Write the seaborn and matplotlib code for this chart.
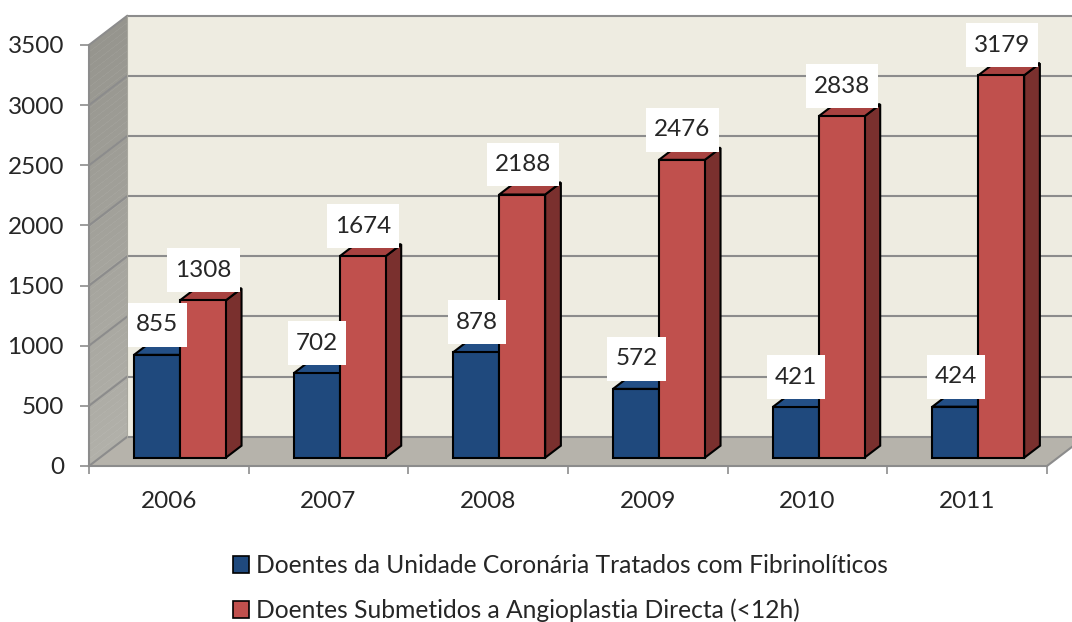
import numpy as np
import pandas as pd
import matplotlib
matplotlib.use("Agg")
import matplotlib.pyplot as plt
import matplotlib.colors as mcolors
from matplotlib.patches import Polygon, Patch
from matplotlib.path import Path
import seaborn as sns

# ---------------- data ----------------
years = ["2006", "2007", "2008", "2009", "2010", "2011"]
fibrinoliticos = [855, 702, 878, 572, 421, 424]
angioplastia = [1308, 1674, 2188, 2476, 2838, 3179]
series_names = [
    "Doentes da Unidade Coronária Tratados com Fibrinolíticos",
    "Doentes Submetidos a Angioplastia Directa (<12h)",
]
y_ticks = [0, 500, 1000, 1500, 2000, 2500, 3000, 3500]

# ---------------- style ----------------
sns.set_style("white")
plt.rcParams["font.family"] = ["Lato", "DejaVu Sans"]

BLUE, BLUE_TOP, BLUE_SIDE = "#1F497D", "#234F86", "#162F52"
RED, RED_TOP, RED_SIDE = "#C0504D", "#A84240", "#7A302E"
BACK_WALL = "#EEECE1"
FLOOR = "#B6B3AB"
WALL_TOP, WALL_BOT = "#96958E", "#B1B0A9"
GRID = "#8C8C8C"
FS = 17.5

W, H = 1072, 622
fig = plt.figure(figsize=(W / 100, H / 100), dpi=100)
x_left, x_right, y_zero, y_top = 89, 1047, 466, 45
ax = fig.add_axes([x_left / W, 1 - y_zero / H, (x_right - x_left) / W, (y_zero - y_top) / H])
ax.set_facecolor("none")

ymax = y_ticks[-1]
px_x = (x_right - x_left) / len(years)          # pixels per category
units_per_px = ymax / (y_zero - y_top)          # data units per pixel

def off(dx_px, dy_px):
    return dx_px / px_x, dy_px * units_per_px

BDX, BDY = off(38.3, 29.3)     # back wall offset
BARDX, BARDY = off(11.1, 8.3)  # bar front plane offset
DDX, DDY = off(15.7, 12.0)     # bar depth

n = len(years)
xl, xr = -0.5, n - 0.5


def label_box(x0, y0, width, height, mutation_size):
    px_ = 0.33 * mutation_size
    py_ = 0.47 * mutation_size
    return Path([(x0 - px_, y0 - py_), (x0 + width + px_, y0 - py_),
                 (x0 + width + px_, y0 + height + py_), (x0 - px_, y0 + height + py_),
                 (x0 - px_, y0 - py_)], closed=True)


# ---------------- walls ----------------
ax.add_patch(plt.Rectangle((xl + BDX, BDY), n + 1, ymax, fc=BACK_WALL, ec="none",
                           zorder=0.2, clip_on=False))
ax.add_patch(Polygon([(xl, 0), (xr, 0), (xr + BDX, BDY), (xl + BDX, BDY)], closed=True,
                     fc=FLOOR, ec="none", zorder=0.4, clip_on=False))
cmap = mcolors.LinearSegmentedColormap.from_list("wall", [WALL_BOT, WALL_TOP])
nstr = 60
for i in range(nstr):
    a, b = ymax * i / nstr, ymax * (i + 1) / nstr
    ax.add_patch(Polygon([(xl, a), (xl, b), (xl + BDX, b + BDY), (xl + BDX, a + BDY)],
                         closed=True, fc=cmap(i / (nstr - 1)), ec=cmap(i / (nstr - 1)),
                         lw=0.3, zorder=0.4, clip_on=False))

for v in y_ticks:
    ax.plot([xl + BDX, xr + 1], [v + BDY, v + BDY], color=GRID, lw=1.5, zorder=0.5,
            clip_on=False, solid_capstyle="butt")
    ax.plot([xl, xl + BDX], [v, v + BDY], color=GRID, lw=1.5, zorder=0.5, clip_on=False)
ax.plot([xr, xr + BDX], [0, BDY], color=GRID, lw=1.5, zorder=0.5, clip_on=False)
ax.plot([xl + BDX, xl + BDX], [BDY, ymax + BDY], color="#A9A89F", lw=0.8, zorder=0.5,
        clip_on=False)

# ---------------- bars ----------------
df = pd.DataFrame({
    "year": years * 2,
    "series": [series_names[0]] * n + [series_names[1]] * n,
    "value": fibrinoliticos + angioplastia,
})
sns.barplot(data=df, x="year", y="value", hue="series", palette=[BLUE, RED],
            width=0.575, saturation=1, errorbar=None, edgecolor="black", linewidth=1.5,
            ax=ax, legend=False, zorder=3)

blue_rgba = mcolors.to_rgba(BLUE)
bars = [p for p in ax.patches if isinstance(p, matplotlib.patches.Rectangle)
        and p.get_zorder() == 3]
for p in bars:
    p.set_clip_on(False)
    p.set_x(p.get_x() + BARDX)
    p.set_y(p.get_y() + BARDY)
    x0 = p.get_x()
    x1 = x0 + p.get_width()
    y0 = p.get_y()
    y1 = y0 + p.get_height()
    is_blue = np.allclose(p.get_facecolor(), blue_rgba, atol=0.02)
    top_c, side_c = (BLUE_TOP, BLUE_SIDE) if is_blue else (RED_TOP, RED_SIDE)
    ax.add_patch(Polygon([(x1, y0), (x1 + DDX, y0 + DDY), (x1 + DDX, y1 + DDY), (x1, y1)],
                         closed=True, fc=side_c, ec="black", lw=1.5, zorder=2,
                         clip_on=False, joinstyle="miter"))
    ax.add_patch(Polygon([(x0, y1), (x1, y1), (x1 + DDX, y1 + DDY), (x0 + DDX, y1 + DDY)],
                         closed=True, fc=top_c, ec="black", lw=1.5, zorder=2,
                         clip_on=False, joinstyle="miter"))
    val = p.get_height()
    ax.text((x0 + x1) / 2 + 0.5 / px_x, y1 + 30.0 * units_per_px, f"{val:.0f}",
            ha="center", va="center", fontsize=FS, zorder=6, clip_on=False,
            bbox=dict(boxstyle=label_box, fc="white", ec="none"))

# ---------------- axes ----------------
ax.set_xlim(xl, xr)
ax.set_ylim(0, ymax)
ax.set_xlabel("")
ax.set_ylabel("")
ax.set_yticks(y_ticks)
ax.set_yticklabels([str(t) for t in y_ticks])
ax.set_xticks(range(n))
ax.set_xticklabels(years)
ax.set_xticks([i - 0.5 for i in range(n + 1)], minor=True)
for s in ["top", "right"]:
    ax.spines[s].set_visible(False)
for s in ["left", "bottom"]:
    ax.spines[s].set_color(GRID)
    ax.spines[s].set_linewidth(1.5)
    ax.spines[s].set_zorder(0.6)
ax.tick_params(axis="y", which="major", left=True, length=6.5, width=1.2, color=GRID,
               pad=11.5, labelsize=FS, direction="out")
ax.tick_params(axis="x", which="major", bottom=True, length=0, pad=18, labelsize=FS)
ax.tick_params(axis="x", which="minor", bottom=True, length=6, width=1.2, color=GRID,
               direction="out")

# ---------------- legend ----------------
handles = [Patch(fc=BLUE, ec="black", lw=1.2), Patch(fc=RED, ec="black", lw=1.2)]
fig.legend(handles, series_names, loc="upper left", bbox_to_anchor=(233 / W, 1 - 554 / H),
           frameon=False, fontsize=FS + 0.2, handlelength=0.65, handleheight=0.65,
           handletextpad=0.3, labelspacing=0.88, borderpad=0, borderaxespad=0)

fig.savefig("out.png", dpi=100)
